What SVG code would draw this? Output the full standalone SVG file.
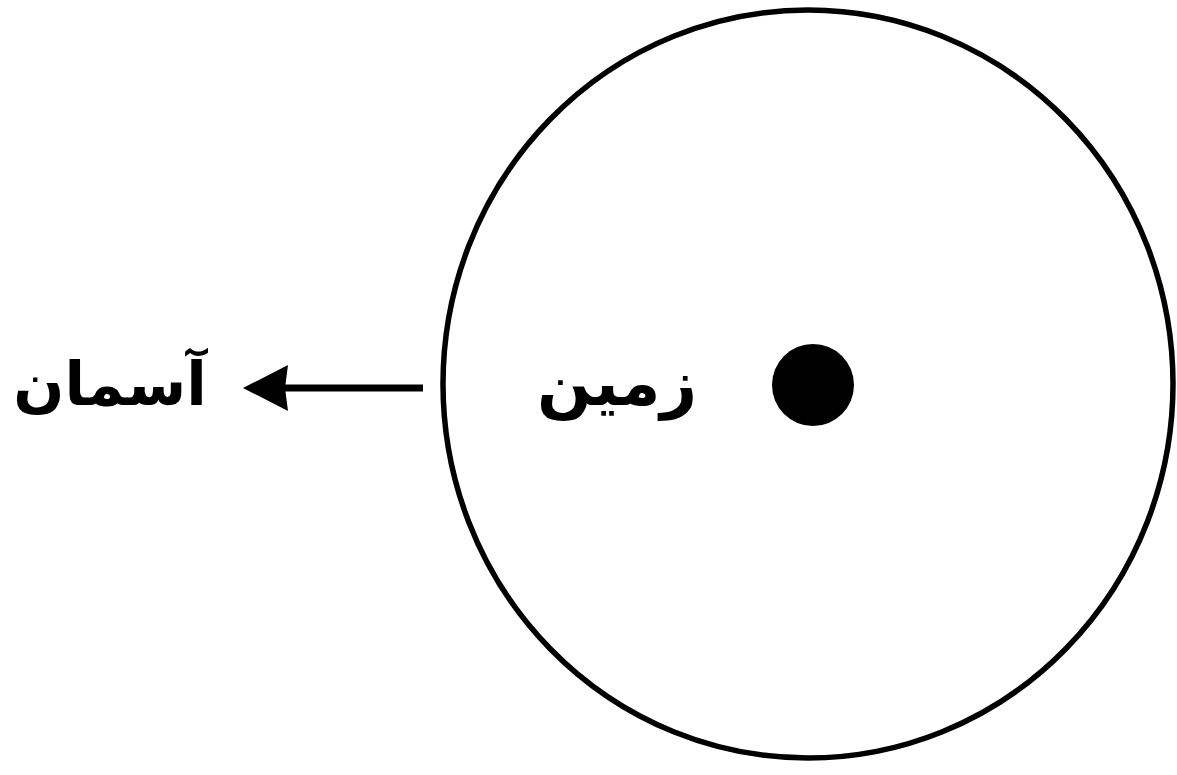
<svg xmlns="http://www.w3.org/2000/svg" width="1177" height="775" viewBox="0 0 1177 775">
<style>
.lbl{font-family:"DejaVu Sans",sans-serif;font-weight:bold;font-size:64px;fill:#000;text-anchor:middle;direction:rtl}
</style>
<rect width="1177" height="775" fill="#fff"/>
<g id="earth">
<ellipse cx="808" cy="384" rx="365" ry="374" fill="none" stroke="#000" stroke-width="5.5"/>
<circle cx="813" cy="385" r="41" fill="#000"/>
<text class="lbl" x="617" y="405">زمین</text>
</g>
<g id="sky">
<text class="lbl" x="110" y="405" style="font-size:60px">آسمان</text>
</g>
<g id="connectors">
<line x1="423" y1="388" x2="285" y2="388" stroke="#000" stroke-width="7"/>
<path d="M243,388 L288,365 L285,388 L288,411 Z" fill="#000"/>
</g>
</svg>
